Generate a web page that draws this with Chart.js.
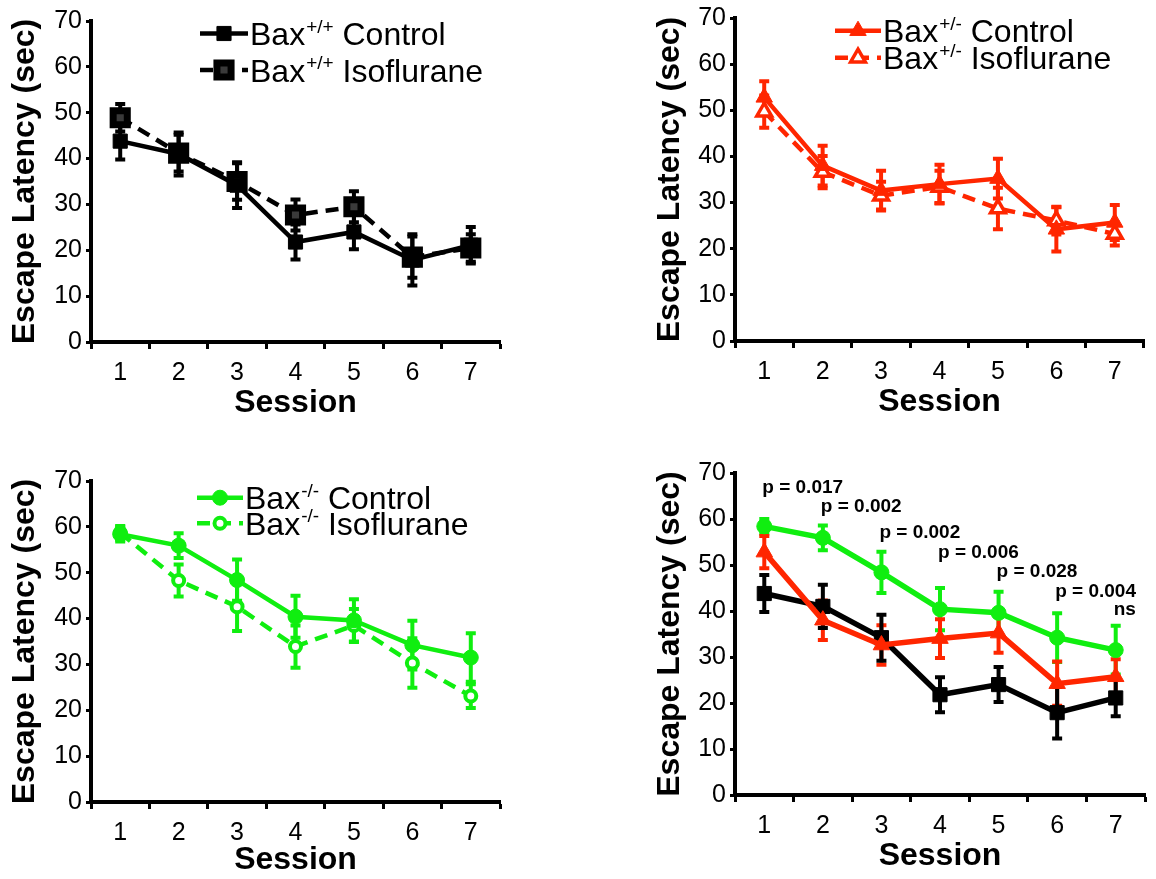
<!DOCTYPE html>
<html>
<head>
<meta charset="utf-8">
<script src="https://cdn.jsdelivr.net/npm/chart.js@4.4.1/dist/chart.umd.min.js"></script>
<style>
  html, body { margin: 0; padding: 0; background: #fff; }
  #wrap { position: relative; width: 1156px; height: 879px; overflow: hidden; }
  canvas { position: absolute; }
</style>
</head>
<body>
<div id="wrap">
  <canvas id="p1" width="578" height="440" style="left:0;top:0"></canvas>
  <canvas id="p2" width="578" height="440" style="left:578px;top:0"></canvas>
  <canvas id="p3" width="578" height="439" style="left:0;top:440px"></canvas>
  <canvas id="p4" width="578" height="439" style="left:578px;top:440px"></canvas>
</div>
<script>
// sessions on the x axis
const sessions = ['1', '2', '3', '4', '5', '6', '7'];

// Bax+/+ (mean, sem)
const wtControl = [43.8, 41.0, 34.2, 21.8, 24.0, 17.9, 21.1];
const wtControlErr = [4.0, 4.7, 5.0, 3.8, 3.8, 5.6, 4.0];
const wtIso = [48.9, 41.2, 35.0, 27.7, 29.5, 18.5, 20.5];
const wtIsoErr = [3.0, 4.0, 4.0, 3.4, 3.4, 4.5, 3.0];

// Bax+/-
const hetControl = [52.8, 38.0, 32.6, 34.0, 35.2, 24.2, 25.7];
const hetControlErr = [3.5, 4.3, 4.3, 4.2, 4.3, 4.8, 3.8];
const hetIso = [49.7, 36.6, 31.5, 33.4, 28.7, 26.1, 23.2];
const hetIsoErr = [3.5, 3.5, 3.0, 3.5, 4.5, 3.0, 2.5];

// Bax-/-
const koControl = [58.4, 55.9, 48.4, 40.4, 39.6, 34.2, 31.5];
const koControlErr = [1.6, 2.7, 4.5, 4.6, 4.6, 5.3, 5.3];
const koIso = [58.7, 48.3, 42.6, 33.9, 38.5, 30.3, 23.1];
const koIsoErr = [1.5, 3.5, 5.3, 4.6, 3.6, 5.4, 2.6];

// p values between control groups (last panel)
const pTexts = ['p = 0.017', 'p = 0.002', 'p = 0.002', 'p = 0.006', 'p = 0.028', 'p = 0.004', 'ns'];
const pLevels = [66.7, 62.6, 57.0, 52.6, 48.5, 44.1, 40.2];

const FONT = 'Arial, "Liberation Sans", Helvetica, sans-serif';
Chart.defaults.font.family = FONT;
Chart.defaults.color = '#000';

const BLACK = '#000000';
const RED = '#ff2600';
const GREEN = '#10ee10';

function drawMarker(ctx, style, r, x, y) {
  ctx.beginPath();
  if (style === 'rect') {
    const s = r * Math.SQRT1_2;
    ctx.rect(x - s, y - s, 2 * s, 2 * s);
  } else if (style === 'triangle') {
    ctx.moveTo(x, y - r);
    ctx.lineTo(x + r * 0.866, y + r * 0.5);
    ctx.lineTo(x - r * 0.866, y + r * 0.5);
    ctx.closePath();
  } else {
    ctx.arc(x, y, r, 0, Math.PI * 2);
  }
  ctx.fill();
  ctx.stroke();
}

// vertical sem bars with caps, under the lines
const errorBars = {
  id: 'errorBars',
  beforeDatasetsDraw(chart) {
    const ctx = chart.ctx;
    const y = chart.scales.y;
    ctx.save();
    chart.data.datasets.forEach((ds, i) => {
      if (!ds.errors) return;
      const meta = chart.getDatasetMeta(i);
      ctx.strokeStyle = ds.borderColor;
      ctx.lineWidth = 4;
      ctx.setLineDash([]);
      meta.data.forEach((pt, j) => {
        const top = y.getPixelForValue(ds.data[j] + ds.errors[j]);
        const bot = y.getPixelForValue(ds.data[j] - ds.errors[j]);
        ctx.beginPath();
        ctx.moveTo(pt.x, top); ctx.lineTo(pt.x, bot);
        ctx.moveTo(pt.x - 5, top); ctx.lineTo(pt.x + 5, top);
        ctx.moveTo(pt.x - 5, bot); ctx.lineTo(pt.x + 5, bot);
        ctx.stroke();
      });
    });
    ctx.restore();
  }
};

// legend with superscript genotype
const legendSpecs = {
  p1: { x: 200, sample: 48, y: 33.5, gap: 36.5 },
  p2: { x: 257, sample: 46, y: 30.7, gap: 27 },
  p3: { x: 197, sample: 46, y: 57.7, gap: 25.6 }
};
const supLegend = {
  id: 'supLegend',
  afterDraw(chart) {
    const spec = legendSpecs[chart.canvas.id];
    if (!spec) return;
    const ctx = chart.ctx;
    chart.data.datasets.forEach((ds, i) => {
      const y = spec.y + i * spec.gap;
      ctx.save();
      ctx.strokeStyle = ds.borderColor;
      ctx.lineWidth = ds.borderWidth;
      ctx.setLineDash(ds.borderDash || []);
      ctx.beginPath();
      ctx.moveTo(spec.x, y);
      ctx.lineTo(spec.x + spec.sample, y);
      ctx.stroke();
      ctx.setLineDash([]);
      ctx.fillStyle = ds.pointBackgroundColor;
      ctx.strokeStyle = ds.pointBorderColor;
      ctx.lineWidth = ds.pointBorderWidth;
      drawMarker(ctx, ds.pointStyle, ds.pointRadius, spec.x + spec.sample / 2, y);

      const m = ds.label.match(/^(Bax)(\S+)(.*)$/);
      let tx = spec.x + spec.sample + 2;
      const base = y + 11.5;
      ctx.fillStyle = '#000';
      ctx.textBaseline = 'alphabetic';
      ctx.textAlign = 'left';
      ctx.font = '32px ' + FONT;
      ctx.fillText(m[1], tx, base);
      tx += ctx.measureText(m[1]).width + 1;
      ctx.font = '19px ' + FONT;
      ctx.fillText(m[2], tx, base - 12.5);
      tx += ctx.measureText(m[2]).width;
      ctx.font = '32px ' + FONT;
      ctx.fillText(m[3], tx, base);
      ctx.restore();
    });
  }
};

// p value labels over sessions
const pValues = {
  id: 'pValues',
  afterDraw(chart) {
    if (chart.canvas.id !== 'p4') return;
    const ctx = chart.ctx;
    const { x, y } = chart.scales;
    ctx.save();
    ctx.font = 'bold 19px ' + FONT;
    ctx.fillStyle = '#000';
    ctx.textAlign = 'left';
    ctx.textBaseline = 'middle';
    pTexts.forEach((t, i) => {
      ctx.fillText(t, x.getPixelForValue(i) - 2, y.getPixelForValue(pLevels[i]));
    });
    ctx.restore();
  }
};

function series(label, data, errors, color, kind, open, lw) {
  const s = {
    label: label,
    data: data,
    errors: errors,
    borderColor: color,
    borderWidth: lw,
    borderDash: open ? [13, 8] : [],
    tension: 0,
    fill: false,
    pointStyle: kind,
    pointBorderColor: color
  };
  if (kind === 'rect') {
    s.pointRadius = 10;
    s.pointBackgroundColor = open ? '#3a3a3a' : color;
    s.pointBorderWidth = open ? 7 : 1;
  } else if (kind === 'triangle') {
    s.pointRadius = open ? 8.5 : 9.5;
    s.pointBackgroundColor = open ? '#fff' : color;
    s.pointBorderWidth = open ? 3.5 : 1;
  } else {
    s.pointRadius = open ? 5.5 : 7.5;
    s.pointBackgroundColor = open ? '#fff' : color;
    s.pointBorderWidth = open ? 4 : 1;
  }
  s.pointHoverRadius = s.pointRadius;
  return s;
}

function makePanel(id, datasets, g) {
  const canvas = document.getElementById(id);
  const W = canvas.width, H = canvas.height;
  return new Chart(canvas, {
    type: 'line',
    data: { labels: sessions, datasets: datasets },
    options: {
      responsive: false,
      animation: false,
      events: [],
      layout: { padding: { left: 0, top: g.top, right: W - g.right, bottom: 0 } },
      plugins: { legend: { display: false }, tooltip: { enabled: false } },
      scales: {
        x: {
          type: 'category',
          offset: true,
          grid: { offset: true, drawOnChartArea: false, drawTicks: true, tickLength: 7, tickWidth: 3, color: '#000' },
          border: { display: true, color: '#000', width: 4 },
          ticks: { font: { size: 25 }, padding: 9, maxRotation: 0, autoSkip: false },
          title: { display: true, text: 'Session', font: { size: 32, weight: 'bold' },
                   padding: { top: 0, bottom: Math.max(0, H - g.bottom - 61 - 19.2) } },
          afterFit(s) { s.height = H - g.bottom; s.paddingLeft = 0; s.paddingRight = 0; }
        },
        y: {
          min: 0,
          max: 70,
          grid: { drawOnChartArea: false, drawTicks: true, tickLength: 5, tickWidth: 3, color: '#000' },
          border: { display: true, color: '#000', width: 4 },
          ticks: { stepSize: 10, font: { size: 25 }, padding: 4 },
          title: { display: true, text: 'Escape Latency (sec)', font: { size: 32, weight: 'bold' },
                   padding: { top: g.titleX - 19.2, bottom: 0 } },
          afterFit(s) { s.width = g.left; s.paddingTop = 0; s.paddingBottom = 0; }
        }
      }
    },
    plugins: [errorBars, supLegend, pValues]
  });
}

makePanel('p1', [
  series('Bax+/+ Control', wtControl, wtControlErr, BLACK, 'rect', false, 4.5),
  series('Bax+/+ Isoflurane', wtIso, wtIsoErr, BLACK, 'rect', true, 4.5)
], { top: 21, bottom: 342, left: 91, right: 500, titleX: 25 });

makePanel('p2', [
  series('Bax+/- Control', hetControl, hetControlErr, RED, 'triangle', false, 4.5),
  series('Bax+/- Isoflurane', hetIso, hetIsoErr, RED, 'triangle', true, 4.5)
], { top: 18, bottom: 341, left: 157, right: 570, titleX: 92 });

makePanel('p3', [
  series('Bax-/- Control', koControl, koControlErr, GREEN, 'circle', false, 4.5),
  series('Bax-/- Isoflurane', koIso, koIsoErr, GREEN, 'circle', true, 4.5)
], { top: 41, bottom: 362, left: 91, right: 500, titleX: 25 });

makePanel('p4', [
  series('Bax-/- Control', koControl, koControlErr, GREEN, 'circle', false, 5.5),
  series('Bax+/- Control', hetControl, hetControlErr, RED, 'triangle', false, 5.5),
  series('Bax+/+ Control', wtControl, wtControlErr, BLACK, 'rect', false, 5.5)
], { top: 33, bottom: 355, left: 157, right: 570, titleX: 92 });
</script>
</body>
</html>
